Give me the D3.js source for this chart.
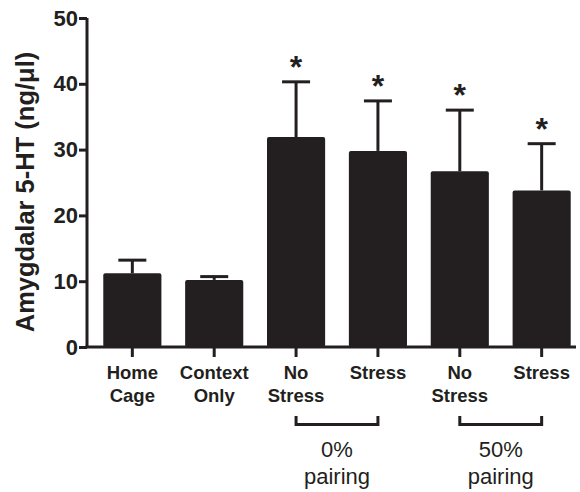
<!DOCTYPE html>
<html>
<head>
<meta charset="utf-8">
<script src="https://cdn.jsdelivr.net/npm/d3@7"></script>
<style>
  body { margin: 0; background: #fff; }
  svg { display: block; font-family: Arial, "Liberation Sans", sans-serif; }
</style>
</head>
<body>
<div id="chart"></div>
<script>
const width = 580;
const height = 492;

const groups = ["Home Cage", "Context Only", "No Stress 0", "Stress 0", "No Stress 50", "Stress 50"];
const labelLines = [["Home", "Cage"], ["Context", "Only"], ["No", "Stress"], ["Stress"], ["No", "Stress"], ["Stress"]];
const means = [11.2, 10.2, 31.9, 29.8, 26.7, 23.8];
const errors = [2.0, 0.5, 8.4, 7.6, 9.3, 7.1];
const significant = [false, false, true, true, true, true];
const yTicks = [0, 10, 20, 30, 40, 50];
const brackets = [
  { from: "No Stress 0", to: "Stress 0", lines: ["0%", "pairing"] },
  { from: "No Stress 50", to: "Stress 50", lines: ["50%", "pairing"] }
];

const ink = "#231f20";
const margin = { left: 87, top: 18 };
const y0 = 347;

const svg = d3.select("#chart")
    .append("svg")
    .attr("width", width)
    .attr("height", height);

const x = d3.scaleBand()
    .domain(groups)
    .range([91, 583])
    .paddingInner(0.29)
    .paddingOuter(0.15);

const y = d3.scaleLinear()
    .domain([0, 50])
    .range([y0, margin.top]);

// bars
svg.selectAll(".bar")
    .data(groups)
    .enter()
    .append("rect")
    .attr("class", "bar")
    .attr("x", d => x(d))
    .attr("y", (d, i) => y(means[i]))
    .attr("width", x.bandwidth())
    .attr("height", (d, i) => y0 - y(means[i]))
    .attr("rx", 2)
    .attr("fill", ink);

// error bars (upper only)
groups.forEach((g, i) => {
    const cx = x(g) + x.bandwidth() / 2;
    svg.append("line")
        .attr("x1", cx).attr("x2", cx)
        .attr("y1", y(means[i])).attr("y2", y(means[i] + errors[i]))
        .attr("stroke", ink).attr("stroke-width", 3);
    svg.append("line")
        .attr("x1", cx - 14).attr("x2", cx + 14)
        .attr("y1", y(means[i] + errors[i])).attr("y2", y(means[i] + errors[i]))
        .attr("stroke", ink).attr("stroke-width", 3);
    if (significant[i]) {
        svg.append("text")
            .attr("x", cx)
            .attr("y", y(means[i] + errors[i]) - 4)
            .attr("text-anchor", "middle")
            .attr("font-size", 32)
            .attr("font-weight", "bold")
            .attr("fill", ink)
            .text("*");
    }
});

// y axis
const yAxis = svg.append("g")
    .attr("transform", `translate(${margin.left},0)`)
    .call(d3.axisLeft(y).tickValues(yTicks).tickSize(8).tickPadding(1));
yAxis.select(".domain").attr("stroke", ink).attr("stroke-width", 3)
    .attr("d", `M0,${margin.top}V${y0}`);
yAxis.selectAll(".tick line").attr("stroke", ink).attr("stroke-width", 3);
yAxis.selectAll(".tick text")
    .attr("font-size", 22).attr("font-weight", "bold").attr("fill", ink)
    .attr("font-family", "Arial, 'Liberation Sans', sans-serif");

// x axis
const xAxis = svg.append("g")
    .attr("transform", `translate(0,${y0})`);
xAxis.append("line")
    .attr("x1", margin.left - 1.5).attr("x2", 576)
    .attr("y1", 0).attr("y2", 0)
    .attr("stroke", ink).attr("stroke-width", 3);
groups.forEach((g, i) => {
    const cx = x(g) + x.bandwidth() / 2;
    xAxis.append("line")
        .attr("x1", cx).attr("x2", cx)
        .attr("y1", 0).attr("y2", 10)
        .attr("stroke", ink).attr("stroke-width", 3);
    const t = xAxis.append("text")
        .attr("text-anchor", "middle")
        .attr("font-size", 18.5)
        .attr("font-weight", "bold")
        .attr("fill", ink);
    labelLines[i].forEach((ln, j) => {
        t.append("tspan").attr("x", cx).attr("y", 32 + j * 23).text(ln);
    });
});

// group brackets
brackets.forEach(b => {
    const x1 = x(b.from) + x.bandwidth() / 2;
    const x2 = x(b.to) + x.bandwidth() / 2;
    svg.append("path")
        .attr("d", `M${x1},416V424.5H${x2}V416`)
        .attr("fill", "none")
        .attr("stroke", ink)
        .attr("stroke-width", 3);
    const t = svg.append("text")
        .attr("text-anchor", "middle")
        .attr("font-size", 22)
        .attr("fill", ink);
    b.lines.forEach((ln, j) => {
        t.append("tspan").attr("x", (x1 + x2) / 2).attr("y", 457 + j * 27).text(ln);
    });
});

// y label
svg.append("text")
    .attr("transform", `translate(34,192) rotate(-90)`)
    .attr("text-anchor", "middle")
    .attr("font-size", 25.5)
    .attr("font-weight", "bold")
    .attr("fill", ink)
    .text("Amygdalar 5-HT (ng/μl)");
</script>
</body>
</html>
